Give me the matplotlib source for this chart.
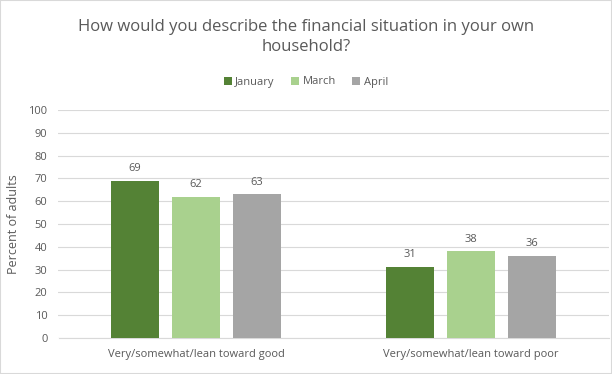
import matplotlib
matplotlib.use('agg')
import numpy as np
import matplotlib.pyplot as plt
from matplotlib.patches import Rectangle

categories = ['Very/somewhat/lean toward good', 'Very/somewhat/lean toward poor']
series_names = ['January', 'March', 'April']
january = [69, 31]
march = [62, 38]
april = [63, 36]
colors = ['#548235', '#A9D18E', '#A5A5A5']

plt.rcParams['font.family'] = ['Open Sans', 'DejaVu Sans']
txt = '#595959'

fig = plt.figure(figsize=(6.12, 3.74), dpi=100)
ax = fig.add_axes([58.5 / 612, (374 - 338) / 374, 550 / 612, 228 / 374])

x = np.arange(len(categories))
w = 0.175
step = 0.222
for i, (vals, name) in enumerate(zip([january, march, april], series_names)):
    pos = x + (i - 1) * step
    bars = ax.bar(pos, vals, width=w, color=colors[i], label=name, zorder=3)
    for b, v in zip(bars, vals):
        ax.text(b.get_x() + b.get_width() / 2, v + 3, str(v), ha='center', va='bottom',
                fontsize=8, color=txt)

ax.set_xlim(-0.5, 1.5)
ax.set_ylim(0, 100)
ax.set_yticks(range(0, 101, 10))
ax.yaxis.grid(True, color='#D9D9D9', linewidth=0.8, zorder=0)
ax.set_xticks(x)
ax.set_xticklabels(categories, fontsize=8, color=txt)
ax.tick_params(axis='y', labelsize=8, labelcolor=txt, length=0, pad=8)
ax.tick_params(axis='x', length=0, pad=8)
for s in ['top', 'right', 'left']:
    ax.spines[s].set_visible(False)
ax.spines['bottom'].set_color('#D9D9D9')
ax.set_ylabel('Percent of adults', fontsize=9, color=txt, labelpad=6)

fig.text(0.5, 1 - 37 / 374, 'How would you describe the financial situation in your own\nhousehold?',
         ha='center', va='center', fontsize=12, color=txt, linespacing=1.4)
ax.legend(loc='center', bbox_to_anchor=(306 / 612, 1 - 82 / 374), bbox_transform=fig.transFigure,
          ncol=3, frameon=False, fontsize=8, labelcolor=txt, handlelength=0.7, handleheight=0.7,
          handletextpad=0.3, columnspacing=1.5)

fig.patches.append(Rectangle((0, 0), 1, 1, transform=fig.transFigure, fill=False,
                             edgecolor='#D9D9D9', linewidth=1.5))
fig.savefig('out.png', dpi=100)
